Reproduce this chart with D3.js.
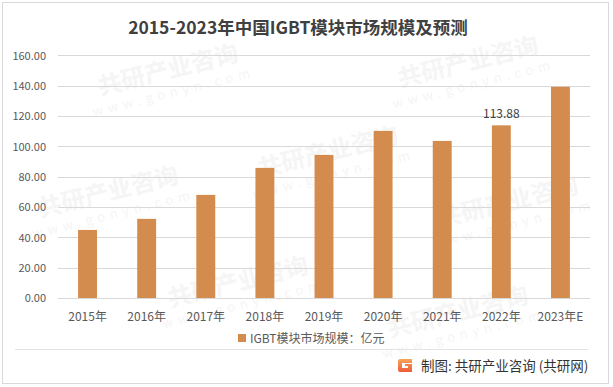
<!DOCTYPE html>
<html><head><meta charset="utf-8">
<script src="https://cdn.jsdelivr.net/npm/d3@7/dist/d3.min.js"></script>
<style>
html,body{margin:0;padding:0;background:#fff;}
svg text{font-family:"Noto Sans CJK SC","Noto Sans",sans-serif;}
</style></head>
<body><svg id="c" width="613" height="387"></svg>
<script>
const categories = ["2015年","2016年","2017年","2018年","2019年","2020年","2021年","2022年","2023年E"];
const values = [44.9, 52.2, 68.0, 85.8, 94.4, 110.2, 103.6, 113.88, 139.3];
const yTicks = [0,20,40,60,80,100,120,140,160];
const labeledIndex = [7];
const title = "2015-2023年中国IGBT模块市场规模及预测";
const legendLabel = "IGBT模块市场规模：亿元";
const sourceText = "制图: 共研产业咨询 (共研网)";

const svg = d3.select("#c");
const W = 613, H = 387;
const m = {left:58, right:23, top:55.4, bottom:89};
const x = d3.scaleBand().domain(categories).range([m.left, W - m.right]).paddingInner(0.68).paddingOuter(0.34);
const y = d3.scaleLinear().domain([0,160]).range([298, 55.4]);

// faint watermarks
const wm = svg.append("g").attr("pointer-events","none");
const wmPos = [[170,78],[470,70],[110,200],[330,160],[510,210],[240,290],[460,320]];
wmPos.forEach(([px,py])=>{
  const g = wm.append("g").attr("transform",`translate(${px},${py}) rotate(-14)`);
  g.append("text").attr("x",0).attr("y",0).attr("text-anchor","middle")
    .attr("font-size",24).attr("font-weight","bold").attr("fill","#f5f5f5").text("共研产业咨询");
  g.append("text").attr("x",0).attr("y",19).attr("text-anchor","middle")
    .attr("font-size",13).attr("letter-spacing",5).attr("fill","#f5f5f5").text("www.gonyn.com");
});

// frame
svg.append("rect").attr("x",2.5).attr("y",2.5).attr("width",606).attr("height",381)
  .attr("fill","none").attr("stroke","#d9d9d9").attr("stroke-width",1);

// title
svg.append("text").attr("x",298).attr("y",34).attr("text-anchor","middle")
  .attr("font-size",17.5).attr("font-weight","bold").attr("fill","#404040").text(title);

// gridlines
svg.append("g").selectAll("line").data(yTicks).join("line")
  .attr("x1",m.left).attr("x2",W-m.right)
  .attr("y1",d=>Math.round(y(d))+0.5).attr("y2",d=>Math.round(y(d))+0.5)
  .attr("stroke","#d9d9d9").attr("stroke-width",1);

// y axis labels
const yAxis = d3.axisLeft(y).tickValues(yTicks).tickFormat(d3.format(".2f")).tickSize(0).tickPadding(0);
const ya = svg.append("g").attr("transform","translate(46,0)").call(yAxis);
ya.select(".domain").remove();
ya.selectAll("text").attr("font-size",11).attr("fill","#595959").attr("dy","0.35em")
  .style("font-family",'"Noto Sans CJK SC",sans-serif');

// bars
svg.append("g").selectAll("rect").data(values).join("rect")
  .attr("x",(d,i)=>x(categories[i])).attr("width",x.bandwidth())
  .attr("y",d=>y(d)).attr("height",d=>y(0)-y(d)).attr("fill","#D48C4E");

// x axis labels
const xAxis = d3.axisBottom(x).tickSize(0).tickPadding(0);
const xa = svg.append("g").attr("transform","translate(0,298)").call(xAxis);
xa.select(".domain").remove();
xa.selectAll("text").attr("font-size",12).attr("fill","#595959").attr("y",23).attr("dy",0)
  .style("font-family",'"Noto Sans CJK SC",sans-serif');

// data label
svg.append("g").selectAll("text").data(labeledIndex).join("text")
  .attr("x",i=>x(categories[i])+x.bandwidth()/2).attr("y",i=>y(values[i])-7)
  .attr("text-anchor","middle").attr("font-size",12).attr("fill","#404040").text(i=>values[i].toFixed(2));

// legend
svg.append("rect").attr("x",238).attr("y",334).attr("width",8).attr("height",8).attr("fill","#D48C4E");
svg.append("text").attr("x",250).attr("y",342.5).attr("font-size",12).attr("fill","#595959").text(legendLabel);

// footer line
svg.append("line").attr("x1",15).attr("x2",588).attr("y1",349.5).attr("y2",349.5).attr("stroke","#e3e3e3");

// logo
const defs = svg.append("defs");
const lg = defs.append("linearGradient").attr("id","lg").attr("x1","0").attr("y1","0").attr("x2","0").attr("y2","1");
lg.append("stop").attr("offset","0").attr("stop-color","#F7A65A");
lg.append("stop").attr("offset","1").attr("stop-color","#EE5A3A");
const logo = svg.append("g").attr("transform","translate(398,359)");
logo.append("path").attr("d","M0,2 Q0,0 2,0 L14,0 L14,4 L4,4 L4,9 L10,9 L10,7 L7,7 L7,5 L14,5 L14,13 L2,13 Q0,13 0,11 Z").attr("fill","url(#lg)");

svg.append("text").attr("x",421).attr("y",371).attr("font-size",13.5).attr("fill","#333").text(sourceText);
</script></body></html>
